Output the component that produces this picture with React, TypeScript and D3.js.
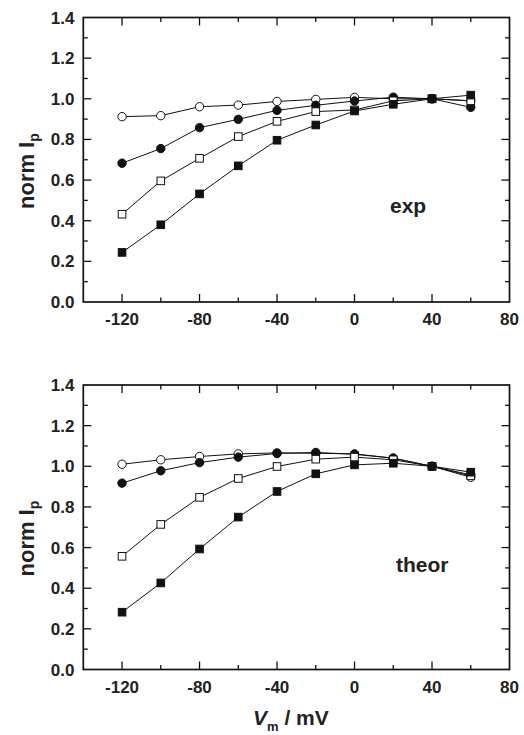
import React from "react";
import * as d3 from "d3";

// membrane potential steps (mV)
const vm = [-120, -100, -80, -60, -40, -20, 0, 20, 40, 60];

// experimental, normalised peak current
const expOpenCircle = [0.912, 0.917, 0.961, 0.969, 0.987, 0.997, 1.007, 1.0, 1.0, 0.99];
const expFilledCircle = [0.683, 0.755, 0.858, 0.899, 0.943, 0.968, 0.989, 1.008, 1.0, 0.958];
const expOpenSquare = [0.432, 0.596, 0.707, 0.814, 0.889, 0.937, 0.945, 0.99, 1.0, 0.99];
const expFilledSquare = [0.244, 0.38, 0.532, 0.67, 0.796, 0.871, 0.94, 0.973, 1.0, 1.018];

// theoretical
const thOpenCircle = [1.01, 1.032, 1.048, 1.061, 1.066, 1.064, 1.061, 1.04, 1.0, 0.946];
const thFilledCircle = [0.917, 0.978, 1.018, 1.045, 1.063, 1.068, 1.059, 1.04, 1.0, 0.958];
const thOpenSquare = [0.557, 0.714, 0.847, 0.94, 0.999, 1.035, 1.045, 1.032, 1.0, 0.953];
const thFilledSquare = [0.282, 0.426, 0.593, 0.75, 0.876, 0.963, 1.007, 1.015, 1.0, 0.971];

const xTicks = [-140, -120, -100, -80, -60, -40, -20, 0, 20, 40, 60, 80];
const xLabels = [-120, -80, -40, 0, 40, 80];
const yTicks = [0, 0.1, 0.2, 0.3, 0.4, 0.5, 0.6, 0.7, 0.8, 0.9, 1.0, 1.1, 1.2, 1.3, 1.4];
const yLabels = [0, 0.2, 0.4, 0.6, 0.8, 1.0, 1.2, 1.4];

const FONT = "'Liberation Sans', Arial, Helvetica, sans-serif";
const LEFT = 83.3;
const RIGHT = 509.5;

type Series = { values: number[]; shape: "circle" | "square"; filled: boolean };

const Panel = ({ top, bottom, series, tag, tagX, tagY }: {
  top: number; bottom: number; series: Series[]; tag: string; tagX: number; tagY: number;
}) => {
  const x = d3.scaleLinear().domain([-140, 80]).range([LEFT, RIGHT]);
  const y = d3.scaleLinear().domain([0, 1.4]).range([bottom, top]);
  const line = d3.line<number>().x((_, i) => x(vm[i])).y(d => y(d));
  const isMajorX = (t: number) => xLabels.includes(t);
  const isMajorY = (t: number) => yLabels.some(l => Math.abs(l - t) < 1e-6);

  return (
    <g>
      {/* ticks, inward on all four sides */}
      {xTicks.filter(t => t > -140 && t < 80).map(t => {
        const len = isMajorX(t) ? 8 : 4.5;
        return (
          <g key={"x" + t} stroke="#111" strokeWidth={1.3}>
            <line x1={x(t)} x2={x(t)} y1={bottom} y2={bottom - len} />
            <line x1={x(t)} x2={x(t)} y1={top} y2={top + len} />
          </g>
        );
      })}
      {yTicks.filter(t => t > 0 && t < 1.4).map(t => {
        const len = isMajorY(t) ? 8 : 4.5;
        return (
          <g key={"y" + t} stroke="#111" strokeWidth={1.3}>
            <line x1={LEFT} x2={LEFT + len} y1={y(t)} y2={y(t)} />
            <line x1={RIGHT} x2={RIGHT - len} y1={y(t)} y2={y(t)} />
          </g>
        );
      })}
      <rect x={LEFT} y={top} width={RIGHT - LEFT} height={bottom - top}
        fill="none" stroke="#111" strokeWidth={1.7} />

      {xLabels.map(t => (
        <text key={"xl" + t} x={x(t)} y={bottom + 23} textAnchor="middle"
          fontFamily={FONT} fontWeight="bold" fontSize={17} fill="#222">{t}</text>
      ))}
      {yLabels.map(t => (
        <text key={"yl" + t} x={74.5} y={y(t) + 6} textAnchor="end"
          fontFamily={FONT} fontWeight="bold" fontSize={17} fill="#222">{t.toFixed(1)}</text>
      ))}

      <text transform={`translate(33.5, ${bottom - 93}) rotate(-90)`}
        fontFamily={FONT} fontWeight="bold" fontSize={22} fill="#222">
        norm I<tspan fontSize={14} dy={5}>p</tspan>
      </text>

      <text x={tagX} y={tagY} fontFamily={FONT} fontWeight="bold" fontSize={21} fill="#222">{tag}</text>

      {series.map((s, si) => (
        <g key={si}>
          <path d={line(s.values) || ""} fill="none" stroke="#111" strokeWidth={1} />
          {s.values.map((v, i) => s.shape === "circle" ? (
            <circle key={i} cx={x(vm[i])} cy={y(v)} r={4.2}
              fill={s.filled ? "#111" : "#fff"} stroke="#111" strokeWidth={1} />
          ) : (
            <rect key={i} x={x(vm[i]) - 3.8} y={y(v) - 3.8} width={7.6} height={7.6}
              fill={s.filled ? "#111" : "#fff"} stroke="#111" strokeWidth={1} />
          ))}
        </g>
      ))}
    </g>
  );
};

const App = () => {
  const expSeries: Series[] = [
    { values: expOpenCircle, shape: "circle", filled: false },
    { values: expFilledCircle, shape: "circle", filled: true },
    { values: expOpenSquare, shape: "square", filled: false },
    { values: expFilledSquare, shape: "square", filled: true },
  ];
  const thSeries: Series[] = [
    { values: thOpenCircle, shape: "circle", filled: false },
    { values: thFilledCircle, shape: "circle", filled: true },
    { values: thOpenSquare, shape: "square", filled: false },
    { values: thFilledSquare, shape: "square", filled: true },
  ];

  return (
    <svg width={524} height={735} style={{ position: "absolute", left: 0, top: 0, background: "#fff" }}>
      <Panel top={17.5} bottom={302} series={expSeries} tag="exp" tagX={390} tagY={213} />
      <Panel top={385} bottom={669.5} series={thSeries} tag="theor" tagX={396} tagY={572} />
      <text x={253} y={725} fontFamily={FONT} fontWeight="bold" fontSize={21} fill="#222">
        <tspan fontStyle="italic">V</tspan>
        <tspan fontSize={13} dy={6}>m</tspan>
        <tspan dy={-6}> / mV</tspan>
      </text>
    </svg>
  );
};

export default App;
